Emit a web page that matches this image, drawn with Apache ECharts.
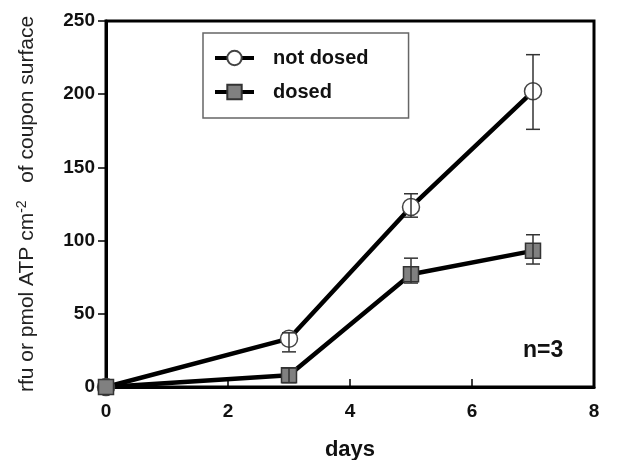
<!DOCTYPE html>
<html>
<head>
<meta charset="utf-8">
<script src="https://cdn.jsdelivr.net/npm/echarts@6/dist/echarts.min.js"></script>
<style>
html, body { margin: 0; padding: 0; background: #fff; }
#chart { width: 627px; height: 460px; }
</style>
</head>
<body>
<div id="chart"></div>
<script>
// values
const days = [0, 3, 5, 7];
const notDosed = [0, 33, 123, 202];
const notDosedLow = [0, 24, 116, 176];
const notDosedHigh = [0, 37, 132, 227];
const dosed = [0, 8, 77, 93];
const dosedLow = [0, 3, 71, 84];
const dosedHigh = [0, 13, 88, 104];
const xTicks = [0, 2, 4, 6, 8];
const yTicks = [0, 50, 100, 150, 200, 250];

const font = 'Liberation Sans, Arial, sans-serif';

function pairs(ys) {
    return days.map((d, i) => [d, ys[i]]);
}

function errData(low, high) {
    return days.map((d, i) => [d, low[i], high[i]]);
}

function renderError(params, api) {
    const x = api.value(0);
    const lo = api.coord([x, api.value(1)]);
    const hi = api.coord([x, api.value(2)]);
    if (api.value(1) === api.value(2)) {
        return null;
    }
    const half = 7;
    const style = { stroke: '#333', lineWidth: 1.5 };
    return {
        type: 'group',
        children: [
            { type: 'line', shape: { x1: lo[0], y1: lo[1], x2: hi[0], y2: hi[1] }, style },
            { type: 'line', shape: { x1: lo[0] - half, y1: lo[1], x2: lo[0] + half, y2: lo[1] }, style },
            { type: 'line', shape: { x1: hi[0] - half, y1: hi[1], x2: hi[0] + half, y2: hi[1] }, style }
        ]
    };
}

const chart = echarts.init(document.getElementById('chart'));
chart.setOption({
    backgroundColor: '#fff',
    animation: false,
    grid: {
        show: true,
        left: 106,
        right: 33,
        top: 21,
        bottom: 73,
        outerBoundsMode: 'none',
        borderColor: '#000',
        borderWidth: 3
    },
    legend: {
        orient: 'vertical',
        left: 203,
        top: 33,
        padding: [15, 40, 16, 10],
        itemWidth: 39,
        itemHeight: 18,
        itemGap: 14,
        borderColor: '#666',
        borderWidth: 1.5,
        lineStyle: { width: 4 },
        textStyle: {
            fontFamily: font,
            fontSize: 20,
            fontWeight: 'bold',
            color: '#111',
            lineHeight: 20,
            padding: [0, 0, 0, 14]
        },
        data: ['not dosed', 'dosed']
    },
    xAxis: {
        type: 'value',
        min: 0,
        max: 8,
        interval: 2,
        name: 'days',
        nameLocation: 'middle',
        nameGap: 52,
        nameTextStyle: {
            fontFamily: font,
            fontSize: 22,
            fontWeight: 'bold',
            color: '#111'
        },
        axisLine: { lineStyle: { color: '#000', width: 3 } },
        axisTick: { inside: true, length: 8, lineStyle: { color: '#000', width: 1.5 } },
        axisLabel: {
            fontFamily: font,
            fontSize: 19,
            fontWeight: 'bold',
            color: '#111',
            margin: 15,
            formatter: v => (xTicks.includes(v) ? String(v) : '')
        },
        splitLine: { show: false }
    },
    yAxis: {
        type: 'value',
        min: 0,
        max: 250,
        interval: 50,
        name: '{n|rfu or pmol ATP cm}{s|-2}{n|   of coupon surface}',
        nameLocation: 'middle',
        nameRotate: 90,
        nameGap: 66,
        nameTextStyle: {
            rich: {
                n: { fontFamily: font, fontSize: 21, color: '#222' },
                s: { fontFamily: font, fontSize: 14, color: '#222', padding: [0, 0, 11, 0] }
            }
        },
        axisLine: { lineStyle: { color: '#000', width: 3 } },
        axisTick: { inside: false, length: 8, lineStyle: { color: '#000', width: 1.5 } },
        axisLabel: {
            fontFamily: font,
            fontSize: 19,
            fontWeight: 'bold',
            color: '#111',
            margin: 11,
            formatter: v => (yTicks.includes(v) ? String(v) : '')
        },
        splitLine: { show: false }
    },
    series: [
        {
            name: 'not dosed',
            type: 'line',
            data: pairs(notDosed),
            clip: false,
            symbol: 'circle',
            symbolSize: 17,
            lineStyle: { color: '#000', width: 4.5 },
            itemStyle: { color: '#fff', borderColor: '#444', borderWidth: 1.5 },
            z: 3
        },
        {
            name: 'dosed',
            type: 'line',
            data: pairs(dosed),
            clip: false,
            symbol: 'rect',
            symbolSize: 15,
            lineStyle: { color: '#000', width: 4.5 },
            itemStyle: { color: '#808080', borderColor: '#333', borderWidth: 1.5 },
            z: 3
        },
        {
            type: 'custom',
            data: errData(notDosedLow, notDosedHigh),
            renderItem: renderError,
            clip: false,
            z: 5
        },
        {
            type: 'custom',
            data: errData(dosedLow, dosedHigh),
            renderItem: renderError,
            clip: false,
            z: 5
        }
    ],
    graphic: [
        {
            type: 'text',
            left: 523,
            top: 339,
            style: {
                text: 'n=3',
                fontFamily: font,
                fontSize: 23,
                fontWeight: 'bold',
                fill: '#111'
            }
        }
    ]
});
</script>
</body>
</html>
